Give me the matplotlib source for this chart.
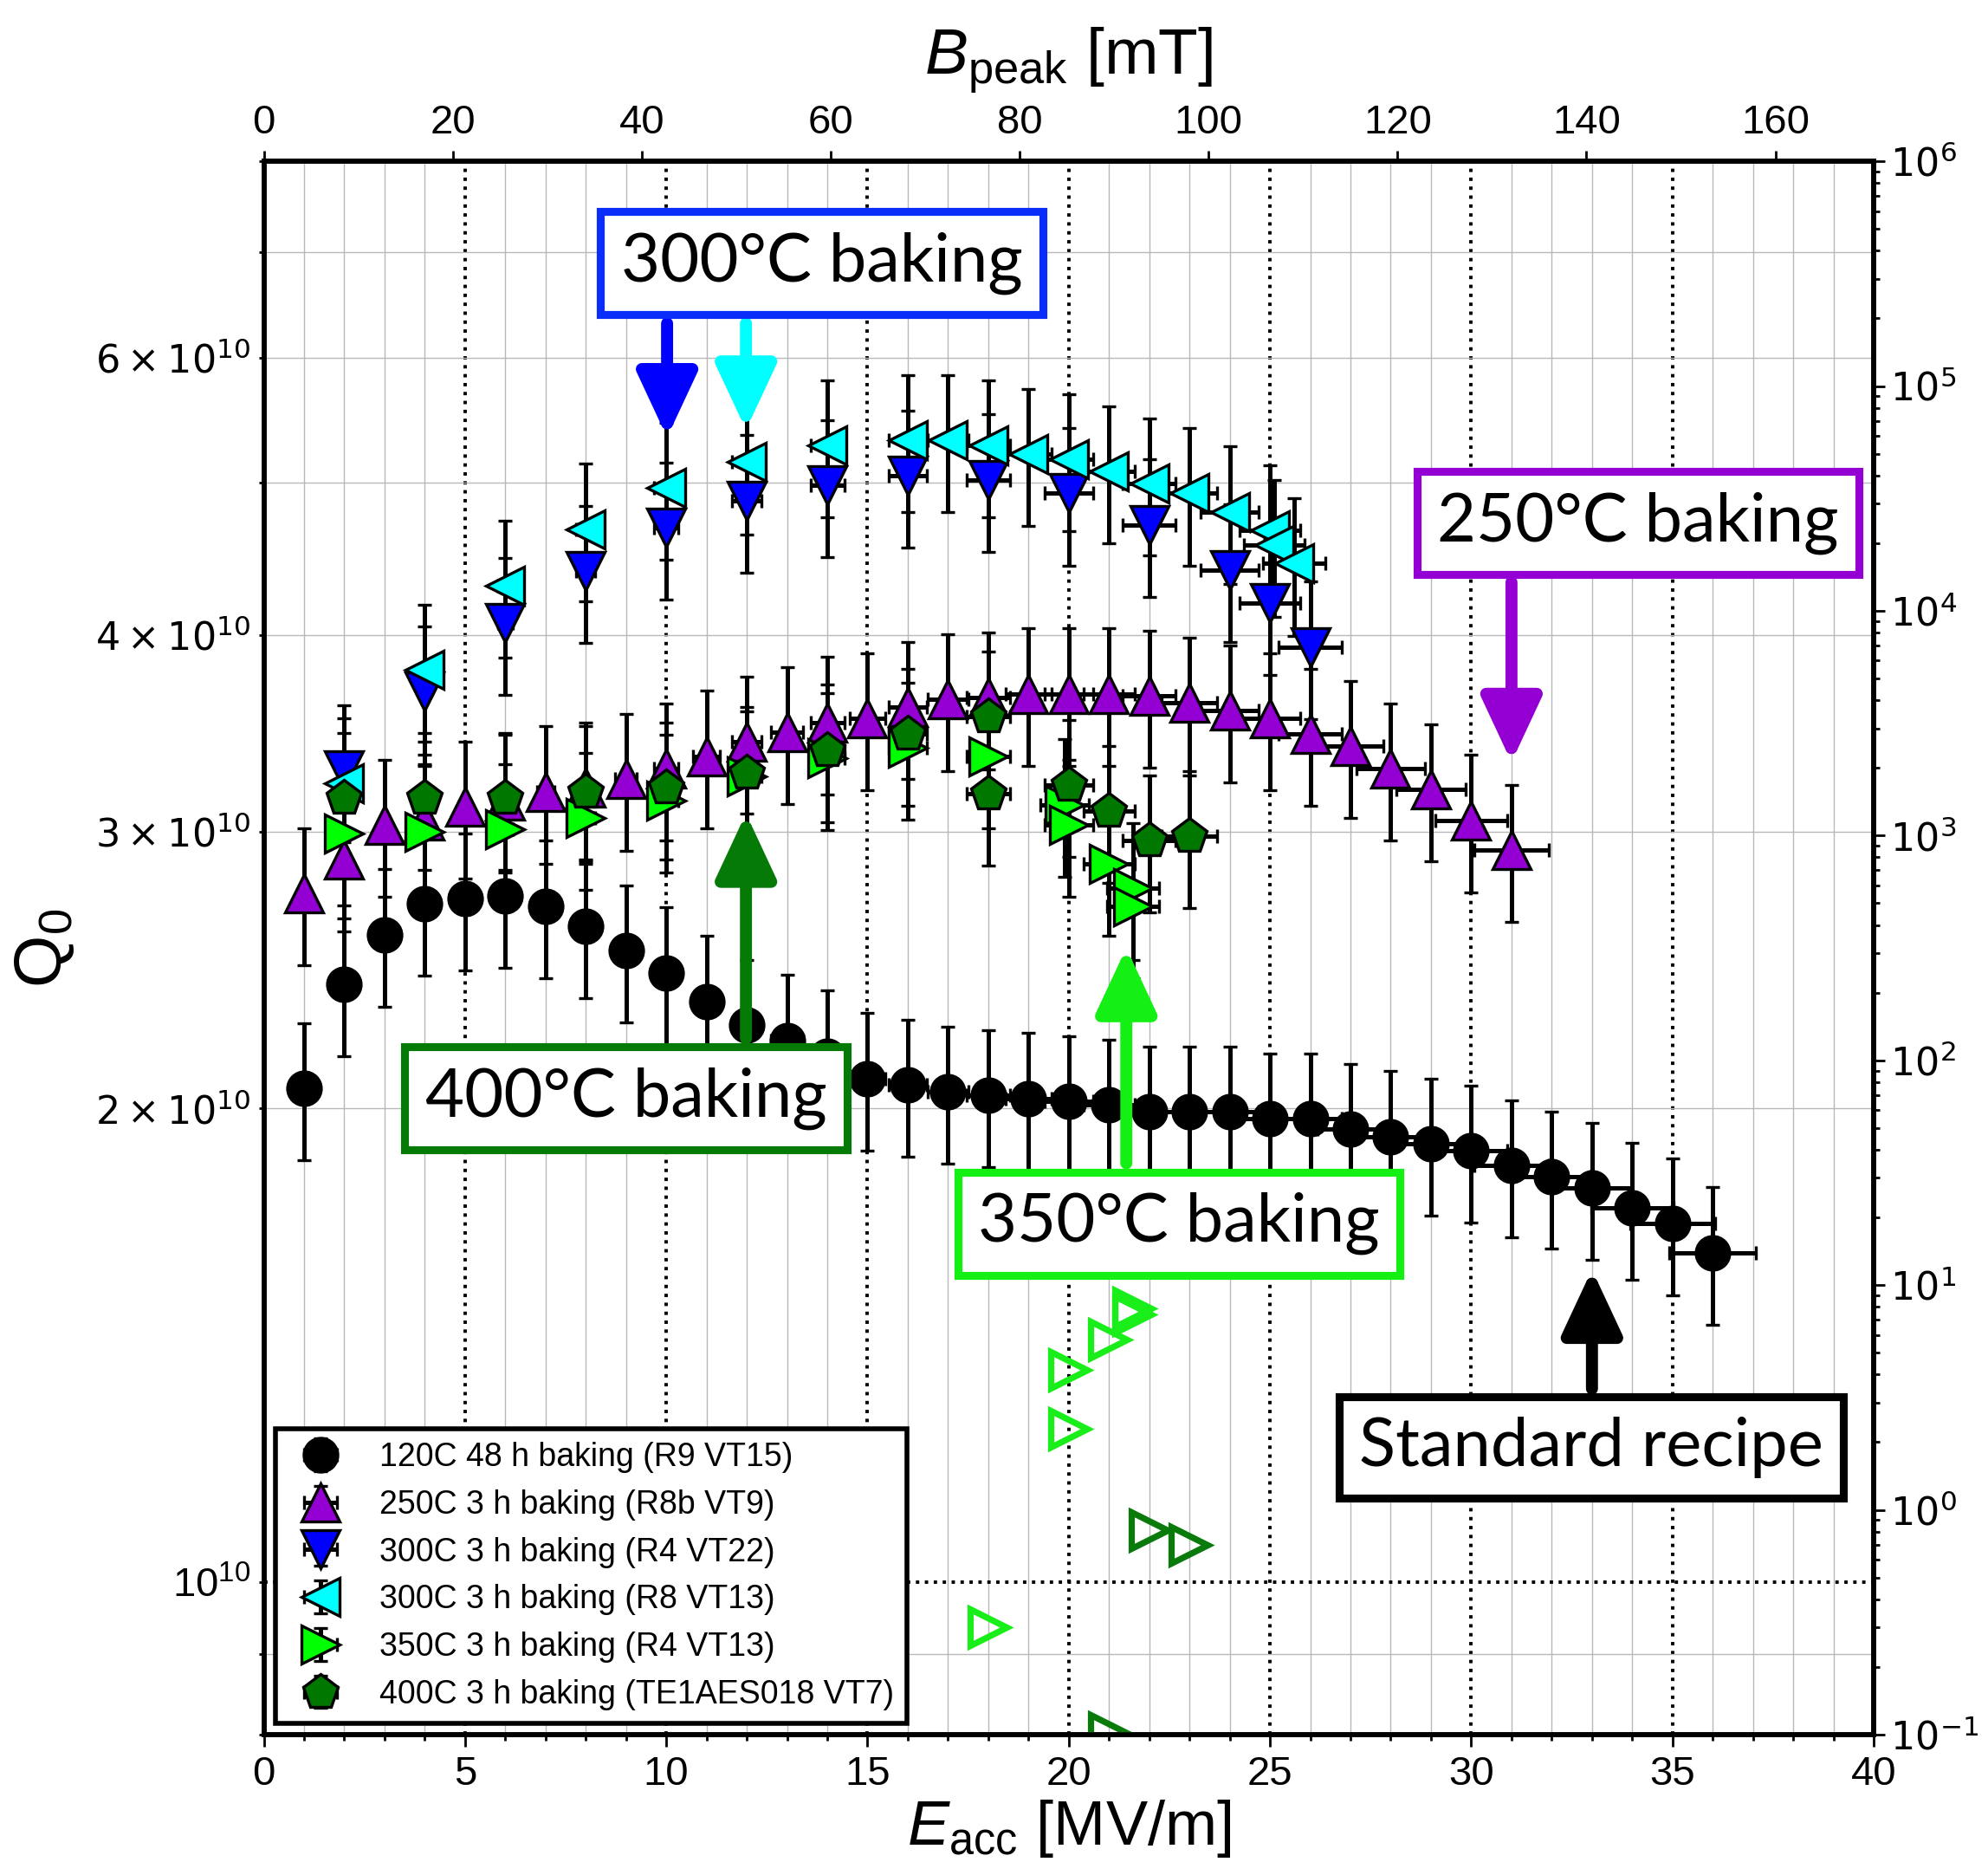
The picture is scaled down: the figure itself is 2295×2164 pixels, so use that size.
import numpy as np
import matplotlib
matplotlib.use('Agg')
import matplotlib.pyplot as plt
from matplotlib import ticker

plt.rcParams['font.family'] = ['Liberation Sans', 'DejaVu Sans']
plt.rcParams['mathtext.fontset'] = 'dejavusans'
plt.rcParams['mathtext.rm'] = 'Liberation Sans'
plt.rcParams['mathtext.it'] = 'Liberation Sans:italic'

# Q0 vs Eacc, in units of 1e10
E_120 = np.arange(1, 37)
Q_120 = [2.06, 2.40, 2.58, 2.70, 2.72, 2.73, 2.69, 2.61, 2.52, 2.44, 2.34, 2.26,
         2.21, 2.16, 2.09, 2.07, 2.05, 2.04, 2.03, 2.02, 2.01, 1.99, 1.99, 1.99,
         1.97, 1.97, 1.94, 1.92, 1.90, 1.88, 1.84, 1.81, 1.78, 1.73, 1.69, 1.62]

E_250 = np.arange(1, 32)
Q_250 = [2.74, 2.88, 3.03, 3.05, 3.11, 3.14, 3.18, 3.20, 3.24, 3.29, 3.35, 3.42,
         3.47, 3.52, 3.54, 3.60, 3.64, 3.65, 3.67, 3.67, 3.67, 3.66, 3.62, 3.58,
         3.54, 3.46, 3.40, 3.29, 3.19, 3.05, 2.92]

E_300a = [2, 4, 6, 8, 10, 12, 14, 16, 18, 20, 22, 24, 25, 26]
Q_300a = [3.28, 3.68, 4.07, 4.39, 4.68, 4.87, 4.98, 5.05, 5.02, 4.92, 4.70, 4.40, 4.19, 3.93]

E_300b = [2, 4, 6, 8, 10, 12, 14, 16, 17, 18, 19, 20, 21, 22, 23, 24, 25, 25.1, 25.6]
Q_300b = [3.22, 3.80, 4.30, 4.67, 4.96, 5.15, 5.28, 5.32, 5.32, 5.28, 5.21, 5.17,
          5.08, 4.99, 4.92, 4.79, 4.66, 4.56, 4.44]

E_350 = [2, 4, 6, 8, 10, 12, 14, 16, 18, 19.9, 20, 21, 21.6, 21.6]
Q_350 = [2.99, 3.00, 3.01, 3.06, 3.14, 3.25, 3.34, 3.39, 3.35, 3.12, 3.03, 2.86, 2.76, 2.69]

E_400 = [2, 4, 6, 8, 10, 12, 14, 16, 18, 18, 20, 21, 22, 23]
Q_400 = [3.15, 3.15, 3.15, 3.18, 3.20, 3.27, 3.38, 3.46, 3.55, 3.17, 3.21, 3.09, 2.96, 2.98]

# radiation (right axis)
E_rad_350 = [18, 20, 20, 21, 21.6, 21.6]
R_rad_350 = [0.30, 2.3, 4.2, 5.7, 7.4, 7.9]
E_rad_400 = [21, 22, 23]
R_rad_400 = [0.102, 0.81, 0.70]

labels = ['120C 48 h baking (R9 VT15)', '250C 3 h baking (R8b VT9)',
          '300C 3 h baking (R4 VT22)', '300C 3 h baking (R8 VT13)',
          '350C 3 h baking (R4 VT13)', '400C 3 h baking (TE1AES018 VT7)']

B_PER_E = 4.26

fig = plt.figure(figsize=(11.475, 10.82), dpi=200)
ax = fig.add_axes([0.1327, 0.0749, 0.8098, 0.8391])


def series(E, Q, marker, color, label, size):
    E = np.asarray(E, float)
    Q = np.asarray(Q) * 1e10
    return ax.errorbar(E, Q, yerr=0.1 * Q, xerr=0.03 * E, fmt=marker, ms=size,
                       mfc=color, mec='k', mew=1.2, ecolor='k', elinewidth=1.8,
                       capsize=2.8, capthick=1.8, label=label)


handles = [
    series(E_120, Q_120, 'o', 'k', labels[0], 14),
    series(E_250, Q_250, '^', '#9400d3', labels[1], 16),
    series(E_300a, Q_300a, 'v', '#0000ff', labels[2], 16),
    series(E_300b, Q_300b, '<', '#00ffff', labels[3], 16),
    series(E_350, Q_350, '>', '#00ff00', labels[4], 16),
    series(E_400, Q_400, 'p', '#007800', labels[5], 15),
]

ax.set_xlim(0, 40)
ax.set_yscale('log')
ax.set_ylim(8e9, 8e10)
ax.xaxis.set_major_locator(ticker.MultipleLocator(5))
ax.xaxis.set_minor_locator(ticker.MultipleLocator(1))
ax.yaxis.set_minor_locator(ticker.LogLocator(base=10, subs=np.arange(2, 10)))


def q_minor(v, pos):
    m = v / 1e10
    for k in (2, 3, 4, 6):
        if abs(m - k) < 1e-6:
            return r'$%d\times10^{10}$' % k
    return ''


ax.yaxis.set_minor_formatter(ticker.FuncFormatter(q_minor))
ax.grid(which='major', ls=':', color='k', lw=1.4)
ax.grid(which='minor', ls='-', color='#b8b8b8', lw=0.5)
ax.tick_params(axis='x', which='both', top=False, direction='out', labelsize=17)
ax.tick_params(axis='x', which='major', length=5, width=1)
ax.tick_params(axis='x', which='minor', length=2.5, width=1)
ax.tick_params(axis='y', which='both', right=False, direction='out', length=2, width=1)
ax.tick_params(axis='y', which='major', labelsize=17)
ax.tick_params(axis='y', which='minor', labelsize=16)
ax.set_xlabel(r'$E_{\rm acc}$ [MV/m]', fontsize=26, math_fontfamily='custom', labelpad=2)
ax.set_ylabel(r'$\mathrm{Q}_0$', fontsize=28, math_fontfamily='custom', labelpad=8)

# peak magnetic field on top
top = ax.secondary_xaxis('top', functions=(lambda e: e * B_PER_E, lambda b: b / B_PER_E))
top.xaxis.set_major_locator(ticker.MultipleLocator(20))
top.xaxis.set_minor_locator(ticker.NullLocator())
top.tick_params(labelsize=17, length=4.5, width=1)
top.set_xlabel(r'$B_{\rm peak}$ [mT]', fontsize=27, math_fontfamily='custom', labelpad=12)
top.spines['top'].set_linewidth(2)

# radiation on the right
ax2 = ax.twinx()
ax2.set_yscale('log')
ax2.set_ylim(0.1, 1e6)
ax2.yaxis.set_major_locator(ticker.LogLocator(base=10, numticks=20))
ax2.yaxis.set_minor_locator(ticker.LogLocator(base=10, subs=np.arange(2, 10), numticks=100))
ax2.yaxis.set_major_formatter(ticker.FuncFormatter(lambda v, p: r'$10^{%d}$' % round(np.log10(v))))
ax2.yaxis.set_minor_formatter(ticker.NullFormatter())
ax2.tick_params(axis='y', which='major', length=4.7, width=1, labelsize=16, pad=2)
ax2.tick_params(axis='y', which='minor', length=2.5, width=1)
ax2.plot(E_rad_350, R_rad_350, '>', ls='none', ms=15, mfc='none', mec='#1aee1a', mew=2.6)
ax2.plot(E_rad_400, R_rad_400, '>', ls='none', ms=15, mfc='none', mec='#0a7a0a', mew=2.6)

for a in (ax, ax2):
    for s in a.spines.values():
        s.set_linewidth(2)

# labelled boxes with arrows pointing at the curves
notes = [
    ('300°C baking', 13.86, 6.89e10, '#0b2dfa'),
    ('250°C baking', 34.14, 4.71e10, '#9400d3'),
    ('400°C baking', 9.0, 2.03e10, '#067a06'),
    ('350°C baking', 22.74, 1.69e10, '#14f014'),
    ('Standard recipe', 32.98, 1.218e10, 'k'),
]
arrows = [
    (10.02, 6.31e10, 5.34e10, '#0000ff'),
    (11.98, 6.31e10, 5.40e10, '#00ffff'),
    (31.0, 4.32e10, 3.32e10, '#9400d3'),
    (11.98, 2.216e10, 3.08e10, '#067a06'),
    (21.43, 1.846e10, 2.53e10, '#14f014'),
    (33.0, 1.327e10, 1.58e10, 'k'),
]
for x, y0, y1, c in arrows:
    ax2.annotate('', xy=(x, y1), xytext=(x, y0), xycoords=ax.transData,
                 textcoords=ax.transData,
                 arrowprops=dict(arrowstyle='-|>,head_length=0.75,head_width=0.35',
                                 mutation_scale=30, lw=5, color=c,
                                 shrinkA=0, shrinkB=0))
for txt, x, y, c in notes:
    ax2.text(x, y, txt, transform=ax.transData, ha='center', va='center',
             fontsize=28, family='Lato', zorder=5,
             bbox=dict(boxstyle='square,pad=0.3', fc='white', ec=c, lw=3.3))

leg = ax2.legend(handles, labels, loc='lower left', fontsize=13.5, frameon=True,
                 fancybox=False, edgecolor='k', framealpha=1, labelspacing=0.5,
                 borderaxespad=0.35)
leg.get_frame().set_linewidth(2)

fig.savefig('out.png', dpi=200)
